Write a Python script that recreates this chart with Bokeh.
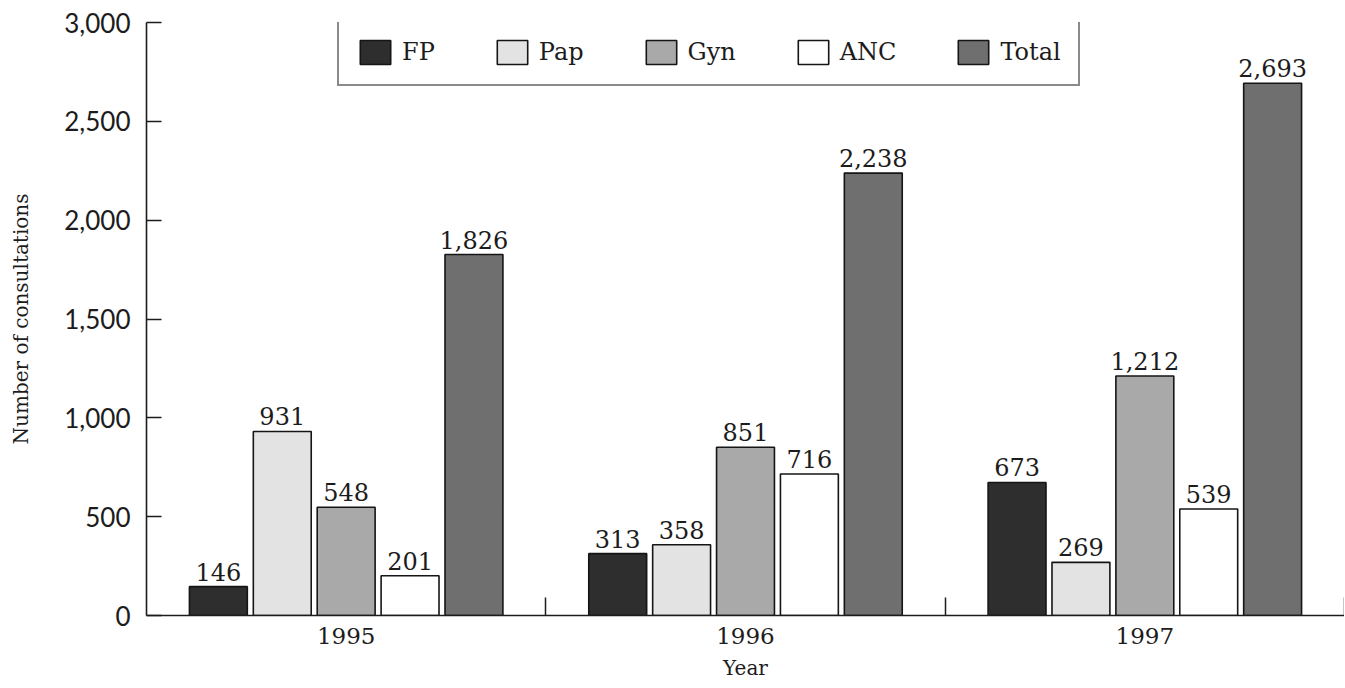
from bokeh.plotting import figure
from bokeh.models import ColumnDataSource, Range1d, FixedTicker, LabelSet, NumeralTickFormatter
from bokeh.transform import dodge
from bokeh.core.properties import value
from bokeh.embed import file_html
from bokeh.resources import INLINE

# ---- data ----
years = ["1995", "1996", "1997"]
series = ["FP", "Pap", "Gyn", "ANC", "Total"]
fp = [146, 313, 673]
pap = [931, 358, 269]
gyn = [548, 851, 1212]
anc = [201, 716, 539]
total = [1826, 2238, 2693]
y_ticks = [0, 500, 1000, 1500, 2000, 2500, 3000]

# ---- styles ----
colors = ["#2e2e2e", "#e3e3e3", "#a9a9a9", "#ffffff", "#6f6f6f"]
offsets = [-0.32, -0.16, 0.0, 0.16, 0.32]
bar_w = 0.145
SERIF = "DejaVu Serif"
TICKFONT = "Lato"
INK = "#1c1c1c"

vals = {"FP": fp, "Pap": pap, "Gyn": gyn, "ANC": anc, "Total": total}
xs = list(range(len(years)))
data = {"x": xs}
for s in series:
    data[s] = vals[s]
    data[s + "_lbl"] = [f"{v:,}" for v in vals[s]]
src = ColumnDataSource(data)

p = figure(width=1344, height=688,
           x_range=Range1d(-0.5, 2.5), y_range=Range1d(0, 3000),
           output_backend="svg", toolbar_location=None,
           min_border_left=146, min_border_top=22, min_border_bottom=73,
           min_border_right=0)
p.outline_line_color = None
p.xgrid.visible = False
p.ygrid.visible = False
p.background_fill_color = "white"
p.border_fill_color = "white"

for s, c, off in zip(series, colors, offsets):
    p.vbar(x=dodge("x", off), top=s, width=bar_w, source=src,
           fill_color=c, line_color="#151515", line_width=1.6,
           legend_label=s)
    lbl = LabelSet(x=dodge("x", off), y=s, text=s + "_lbl", source=src,
                   text_align="center", text_baseline="alphabetic",
                   y_offset=6, text_font=value(SERIF),
                   text_font_size="24px", text_color=INK)
    p.add_layout(lbl)

# x axis
xa = p.xaxis[0]
xa.ticker = FixedTicker(ticks=xs, minor_ticks=[0.5, 1.5, 2.5])
xa.major_label_overrides = {i: y for i, y in enumerate(years)}
xa.major_tick_in = 0
xa.major_tick_out = 0
xa.minor_tick_in = 18
xa.minor_tick_out = 0
xa.minor_tick_line_color = INK
xa.minor_tick_line_width = 1.5
xa.axis_line_color = INK
xa.axis_line_width = 1.6
xa.major_label_text_font = SERIF
xa.major_label_text_font_size = "23px"
xa.major_label_text_color = INK
xa.major_label_standoff = 12
xa.axis_label = "Year"
xa.axis_label_text_font = SERIF
xa.axis_label_text_font_size = "20px"
xa.axis_label_text_font_style = "normal"
xa.axis_label_text_color = INK
xa.axis_label_standoff = 9

# y axis
ya = p.yaxis[0]
ya.ticker = FixedTicker(ticks=y_ticks)
ya.formatter = NumeralTickFormatter(format="0,0")
ya.major_tick_in = 15
ya.major_tick_out = 0
ya.major_tick_line_color = INK
ya.major_tick_line_width = 1.5
ya.minor_tick_in = 0
ya.minor_tick_out = 0
ya.axis_line_color = INK
ya.axis_line_width = 1.6
ya.major_label_text_font = TICKFONT
ya.major_label_text_font_size = "26px"
ya.major_label_text_color = INK
ya.major_label_standoff = 16
ya.axis_label = "Number of consultations"
ya.axis_label_text_font = SERIF
ya.axis_label_text_font_size = "20px"
ya.axis_label_text_font_style = "normal"
ya.axis_label_text_color = INK
ya.axis_label_standoff = 28

# legend
lg = p.legend[0]
lg.orientation = "horizontal"
lg.location = (191, 529)
lg.glyph_width = 38
lg.glyph_height = 30
lg.label_standoff = 8
lg.spacing = 58
lg.padding = 17
lg.margin = 0
lg.label_text_font = SERIF
lg.label_text_font_size = "24px"
lg.label_text_color = INK
lg.border_line_color = "#151515"
lg.border_line_width = 2
lg.background_fill_color = "white"
lg.background_fill_alpha = 1.0

open("out.html", "w").write(file_html(p, INLINE))
